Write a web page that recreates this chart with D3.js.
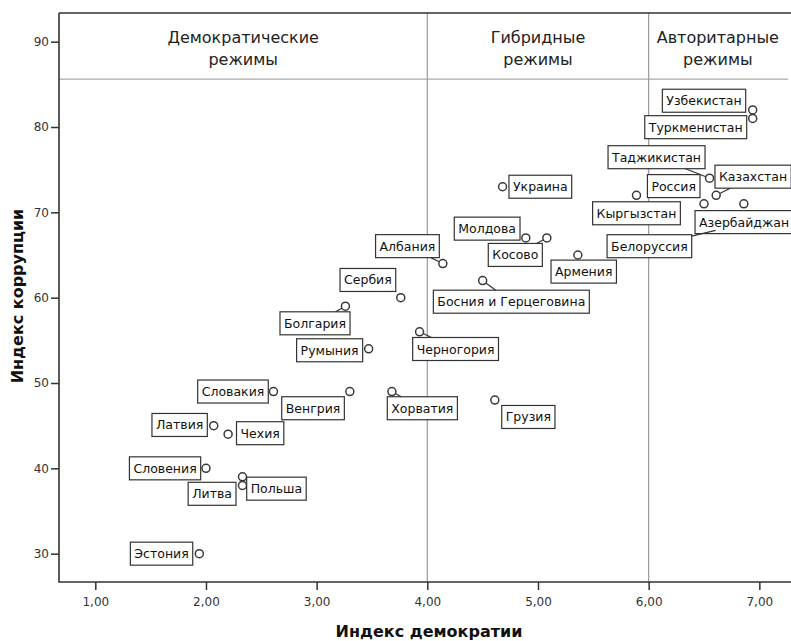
<!DOCTYPE html>
<html><head><meta charset="utf-8">
<script src="https://cdn.jsdelivr.net/npm/d3@7"></script>
<style>body{margin:0;background:#fff}svg{display:block}</style>
</head><body>
<svg id="chart" width="791" height="641"></svg>
<script>
// ---- data ----
const countries = ["Узбекистан","Туркменистан","Таджикистан","Казахстан","Россия","Азербайджан","Белоруссия","Кыргызстан","Украина","Молдова","Косово","Албания","Босния и Герцеговина","Армения","Сербия","Болгария","Румыния","Черногория","Венгрия","Хорватия","Грузия","Словакия","Латвия","Чехия","Словения","Польша","Литва","Эстония"];
const democracyIndex = [6.94,6.94,6.55,6.61,6.50,6.86,6.64,5.89,4.68,4.89,5.08,4.14,4.50,5.36,3.76,3.26,3.47,3.93,3.30,3.68,4.61,2.61,2.07,2.20,2.00,2.33,2.33,1.94];
const corruptionIndex = [82,81,74,72,71,71,68,72,73,67,67,64,62,65,60,59,54,56,49,49,48,49,45,44,40,39,38,30];
const xTicks = [1,2,3,4,5,6,7];
const yTicks = [30,40,50,60,70,80,90];
const regimeNames = [["Демократические","режимы"],["Гибридные","режимы"],["Авторитарные","режимы"]];
const regimeBounds = [4, 6];
const regimeLineValue = 85.6;
const xTitle = "Индекс демократии";
const yTitle = "Индекс коррупции";

// ---- label layout (anchor side, dx to near edge, dy of box centre) ----
const labelAnchor = ["end","end","end","start","end","start","end","middle","start","end","end","end","start","start","end","end","end","start","end","start","start","end","end","start","end","start","end","end"];
const labelDx = [-7,-6,-4.5,-1.2,-4,-48.8,-27.8,0,6.4,-5.8,-4.5,-3.5,-49.3,-26.8,-5,4.6,-6,-6.9,-5.5,-4.6,6.9,-5.2,-6.4,8.4,-5.3,4.2,-6.5,-6.6];
const labelDy = [-9.2,8.7,-21,-18.6,-17.7,18.3,16.8,18,0,-9.3,17,-17.4,21.1,16.6,-17.7,17.1,1.4,17.2,16.7,16.7,16.9,0,-0.7,-1,0,11.8,8.4,0];
const leaderNames = ["Таджикистан","Казахстан","Белоруссия","Косово","Албания","Босния и Герцеговина","Болгария","Черногория","Хорватия"];

const svg = d3.select("#chart");
const L = 59, R = 787, T = 13, B = 582;
const x = d3.scaleLinear().domain([0.672, 7.25]).range([L, R]);
const y = d3.scaleLinear().domain([26.68, 93.36]).range([B, T]);
const axisColor = "#333";
const font = "DejaVu Sans, Verdana, sans-serif";

// reference lines
svg.append("line").attr("x1", L).attr("x2", 788).attr("y1", y(regimeLineValue)).attr("y2", y(regimeLineValue))
  .attr("stroke", "#aaa").attr("stroke-width", 1.2);
regimeBounds.forEach(v => {
  svg.append("line").attr("x1", x(v)).attr("x2", x(v)).attr("y1", T).attr("y2", B)
    .attr("stroke", "#999").attr("stroke-width", 1.2);
});

// regime headers
const edges = [x.domain()[0], ...regimeBounds, x.domain()[1]];
regimeNames.forEach((lines, i) => {
  const cx = (x(edges[i]) + x(edges[i+1])) / 2;
  const t = svg.append("text").attr("x", cx).attr("y", 43).attr("text-anchor", "middle")
    .attr("font-family", font).attr("font-size", 16).attr("fill", "#222");
  lines.forEach((s, j) => t.append("tspan").attr("x", cx).attr("dy", j ? 22 : 0).text(s));
});

// axes
const gx = svg.append("g").attr("transform", `translate(0,${B})`)
  .call(d3.axisBottom(x).tickValues(xTicks).tickSize(8).tickSizeOuter(0).tickFormat(d => d3.format(".2f")(d).replace(".", ",")));
const gy = svg.append("g").attr("transform", `translate(${L},0)`)
  .call(d3.axisLeft(y).tickValues(yTicks).tickSize(8).tickSizeOuter(0).tickFormat(d3.format("d")));
[gx, gy].forEach(g => {
  g.select(".domain").remove();
  g.selectAll(".tick line").attr("stroke", axisColor).attr("stroke-width", 1.5);
  g.selectAll(".tick text").attr("font-family", font).attr("font-size", 12).attr("fill", "#333");
});
gx.selectAll(".tick text").attr("dy", "1.05em");
gy.selectAll(".tick text").attr("x", -10);

// frame
svg.append("path").attr("d", `M${L},${T}H791M${L},${T}V${B}H791`).attr("fill", "none")
  .attr("stroke", axisColor).attr("stroke-width", 1.6);

// axis titles
svg.append("text").attr("x", 429).attr("y", 637).attr("text-anchor", "middle")
  .attr("font-family", font).attr("font-weight", "bold").attr("font-size", 16).attr("fill", "#111").text(xTitle);
svg.append("text").attr("transform", "translate(23,296) rotate(-90)").attr("text-anchor", "middle")
  .attr("font-family", font).attr("font-weight", "bold").attr("font-size", 16).attr("fill", "#111").text(yTitle);

// points
const data = countries.map((c, i) => ({ name: c, px: x(democracyIndex[i]), py: y(corruptionIndex[i]), i }));
const r = 4;
svg.append("g").selectAll("circle").data(data).join("circle")
  .attr("cx", d => d.px).attr("cy", d => d.py).attr("r", r)
  .attr("fill", "none").attr("stroke", "#3a3a3a").attr("stroke-width", 1.5);

// labels
const boxH = 23, pad = 4;
const lg = svg.append("g");
data.forEach(d => {
  const g = lg.append("g");
  const rect = g.append("rect");
  const t = g.append("text").attr("font-family", font).attr("font-size", 12.5).attr("fill", "#111").text(d.name);
  const w = t.node().getComputedTextLength() + 2 * pad;
  const a = labelAnchor[d.i], dx = labelDx[d.i];
  let bx;
  if (a === "end") bx = d.px + dx - w; else if (a === "start") bx = d.px + dx; else bx = d.px + dx - w / 2;
  const by = d.py + labelDy[d.i] - boxH / 2;
  rect.attr("x", bx).attr("y", by).attr("width", w).attr("height", boxH)
    .attr("fill", "#fff").attr("stroke", "#333").attr("stroke-width", 1.2);
  t.attr("x", bx + pad).attr("y", by + boxH / 2 + 4.5);
  d.box = { x: bx, y: by, w, h: boxH };
});

// leader lines
data.filter(d => leaderNames.includes(d.name)).forEach(d => {
  const b = d.box, cx = b.x + b.w / 2, cy = b.y + b.h / 2;
  const vx = d.px - cx, vy = d.py - cy;
  const tx = vx !== 0 ? (b.w / 2) / Math.abs(vx) : Infinity;
  const ty = vy !== 0 ? (b.h / 2) / Math.abs(vy) : Infinity;
  const t0 = Math.min(tx, ty);
  const sx = cx + vx * t0, sy = cy + vy * t0;
  const len = Math.hypot(d.px - sx, d.py - sy);
  if (len <= r) return;
  const ex = d.px - (d.px - sx) / len * r, ey = d.py - (d.py - sy) / len * r;
  svg.append("line").attr("x1", sx).attr("y1", sy).attr("x2", ex).attr("y2", ey)
    .attr("stroke", "#333").attr("stroke-width", 1.2);
});
</script>
</body></html>
